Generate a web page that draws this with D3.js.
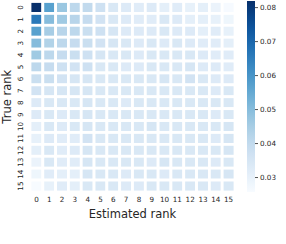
<!DOCTYPE html>
<html>
<head>
<meta charset="utf-8">
<script src="https://cdn.jsdelivr.net/npm/d3@7"></script>
<style>
  body { margin: 0; background: #fff; }
  text { font-family: "DejaVu Sans", sans-serif; fill: #262626; }
</style>
</head>
<body>
<script>
// rank labels on both axes
const ranks = d3.range(16);
const cbTicks = [0.03, 0.04, 0.05, 0.06, 0.07, 0.08];
const vMin = 0.0256, vMax = 0.0818;

// probability of estimated rank (columns) given true rank (rows)
const row0  = [0.0818, 0.057, 0.047, 0.041, 0.040, 0.037, 0.034, 0.033, 0.032, 0.033, 0.031, 0.032, 0.030, 0.031, 0.029, 0.026];
const row1  = [0.066, 0.050, 0.046, 0.042, 0.039, 0.036, 0.034, 0.033, 0.032, 0.032, 0.034, 0.033, 0.031, 0.031, 0.030, 0.028];
const row2  = [0.057, 0.045, 0.042, 0.041, 0.038, 0.037, 0.035, 0.033, 0.033, 0.033, 0.034, 0.033, 0.033, 0.031, 0.032, 0.030];
const row3  = [0.050, 0.043, 0.041, 0.039, 0.038, 0.036, 0.035, 0.034, 0.033, 0.034, 0.033, 0.034, 0.033, 0.032, 0.032, 0.031];
const row4  = [0.046, 0.041, 0.039, 0.038, 0.037, 0.035, 0.034, 0.034, 0.033, 0.034, 0.034, 0.034, 0.034, 0.033, 0.032, 0.032];
const row5  = [0.041, 0.039, 0.037, 0.036, 0.037, 0.034, 0.034, 0.033, 0.033, 0.034, 0.034, 0.034, 0.035, 0.033, 0.033, 0.032];
const row6  = [0.038, 0.038, 0.036, 0.035, 0.035, 0.034, 0.034, 0.034, 0.034, 0.034, 0.035, 0.034, 0.036, 0.034, 0.033, 0.033];
const row7  = [0.036, 0.035, 0.035, 0.035, 0.035, 0.034, 0.034, 0.034, 0.034, 0.034, 0.034, 0.034, 0.034, 0.034, 0.033, 0.034];
const row8  = [0.033, 0.034, 0.034, 0.034, 0.035, 0.034, 0.034, 0.033, 0.034, 0.034, 0.034, 0.034, 0.034, 0.034, 0.034, 0.034];
const row9  = [0.033, 0.034, 0.033, 0.034, 0.035, 0.034, 0.034, 0.034, 0.034, 0.034, 0.034, 0.034, 0.034, 0.034, 0.033, 0.034];
const row10 = [0.031, 0.034, 0.033, 0.034, 0.035, 0.034, 0.034, 0.034, 0.034, 0.035, 0.034, 0.034, 0.034, 0.034, 0.034, 0.035];
const row11 = [0.030, 0.033, 0.032, 0.032, 0.036, 0.034, 0.034, 0.034, 0.034, 0.034, 0.034, 0.034, 0.034, 0.034, 0.033, 0.035];
const row12 = [0.031, 0.034, 0.032, 0.033, 0.035, 0.034, 0.034, 0.034, 0.034, 0.034, 0.034, 0.034, 0.034, 0.034, 0.034, 0.035];
const row13 = [0.029, 0.034, 0.032, 0.032, 0.035, 0.034, 0.034, 0.034, 0.034, 0.033, 0.035, 0.034, 0.034, 0.034, 0.033, 0.034];
const row14 = [0.028, 0.032, 0.031, 0.031, 0.035, 0.034, 0.034, 0.033, 0.034, 0.034, 0.033, 0.034, 0.034, 0.034, 0.034, 0.035];
const row15 = [0.0256, 0.030, 0.032, 0.031, 0.034, 0.034, 0.034, 0.033, 0.033, 0.034, 0.034, 0.034, 0.034, 0.034, 0.033, 0.034];
const rows = [row0, row1, row2, row3, row4, row5, row6, row7, row8, row9, row10, row11, row12, row13, row14, row15];

const W = 286, H = 244;
const hm = { left: 30, top: 1.5, right: 235, bottom: 192 };

const svg = d3.select('body').append('svg')
  .attr('width', W).attr('height', H);

const x = d3.scaleBand().domain(ranks).range([hm.left, hm.right]);
const y = d3.scaleBand().domain(ranks).range([hm.top, hm.bottom]);
const color = d3.scaleSequential(d3.interpolateBlues).domain([vMin, vMax]);

// cells
const cells = [];
rows.forEach((r, i) => r.forEach((v, j) => cells.push({ i, j, v })));

svg.append('g').selectAll('rect')
  .data(cells)
  .join('rect')
  .attr('x', d => x(d.j))
  .attr('y', d => y(d.i))
  .attr('width', x.bandwidth())
  .attr('height', y.bandwidth())
  .attr('fill', d => color(d.v))
  .attr('stroke', '#fff')
  .attr('stroke-width', 2.8);

// x axis
const xAxis = svg.append('g')
  .attr('transform', `translate(0, ${hm.bottom})`)
  .call(d3.axisBottom(x).tickSize(0).tickPadding(5));
xAxis.select('.domain').remove();
xAxis.selectAll('text').style('font-size', '7.2px').attr('fill', '#262626');

// y axis, labels rotated
const yAxis = svg.append('g')
  .attr('transform', `translate(${hm.left}, 0)`)
  .call(d3.axisLeft(y).tickSize(0));
yAxis.select('.domain').remove();
yAxis.selectAll('text')
  .style('font-size', '7.2px')
  .attr('fill', '#262626')
  .attr('x', 0).attr('dy', null)
  .attr('text-anchor', 'middle')
  .attr('dominant-baseline', 'central')
  .attr('transform', 'translate(-9.5, 0) rotate(-90)');

svg.append('text')
  .attr('x', (hm.left + hm.right) / 2).attr('y', 217.5)
  .attr('text-anchor', 'middle')
  .style('font-size', '11.5px')
  .text('Estimated rank');

svg.append('text')
  .attr('transform', `translate(11, ${(hm.top + hm.bottom) / 2}) rotate(-90)`)
  .attr('text-anchor', 'middle')
  .style('font-size', '11.5px')
  .text('True rank');

// colorbar
const cb = { x: 247, w: 8, top: 1, bottom: 192 };
const cbScale = d3.scaleLinear().domain([vMin, vMax]).range([cb.bottom, cb.top]);

const grad = svg.append('defs').append('linearGradient')
  .attr('id', 'cbgrad')
  .attr('x1', 0).attr('y1', 1).attr('x2', 0).attr('y2', 0);
grad.selectAll('stop')
  .data(d3.range(0, 1.0001, 0.05))
  .join('stop')
  .attr('offset', d => d)
  .attr('stop-color', d => d3.interpolateBlues(d));

svg.append('rect')
  .attr('x', cb.x).attr('y', cb.top)
  .attr('width', cb.w).attr('height', cb.bottom - cb.top)
  .attr('fill', 'url(#cbgrad)');

const cbAxis = svg.append('g')
  .attr('transform', `translate(${cb.x + cb.w}, 0)`)
  .call(d3.axisRight(cbScale).tickValues(cbTicks).tickSize(3).tickPadding(2).tickFormat(d3.format('.2f')));
cbAxis.select('.domain').remove();
cbAxis.selectAll('line').attr('stroke', '#262626').attr('stroke-width', 0.8);
cbAxis.selectAll('text').style('font-size', '7.2px').attr('fill', '#262626');
</script>
</body>
</html>
